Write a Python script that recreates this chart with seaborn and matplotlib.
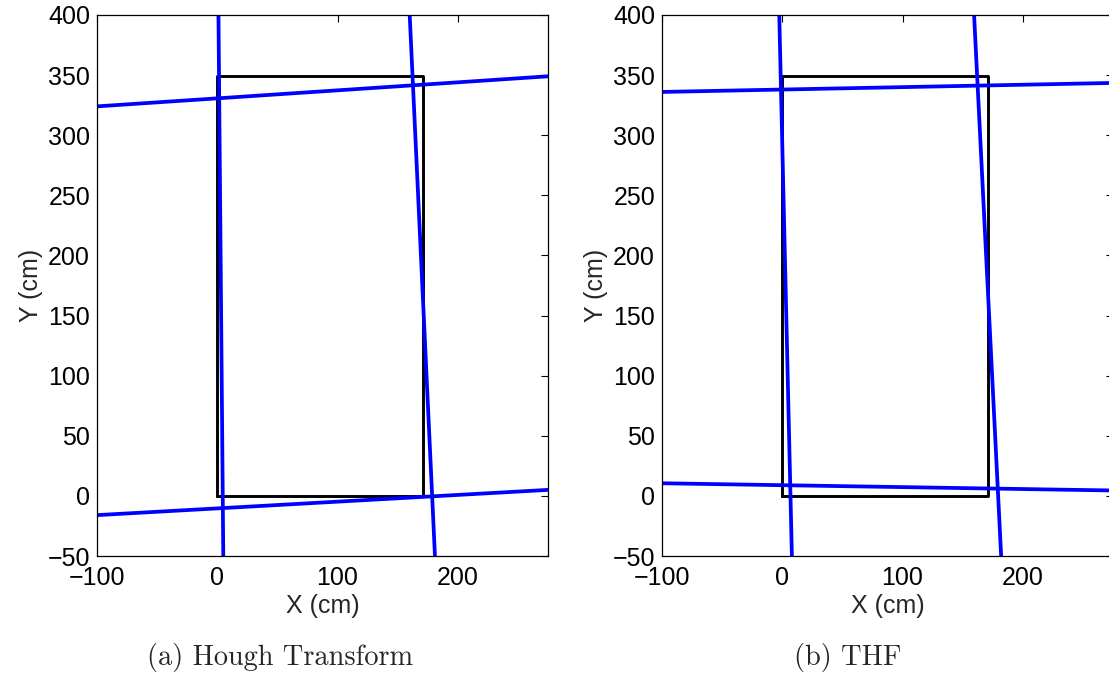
import matplotlib
matplotlib.use("Agg")
import matplotlib.pyplot as plt
import seaborn as sns
import pandas as pd

# ---- data ----
rect_x = [0, 171, 171, 0, 0]
rect_y = [0, 0, 349, 349, 0]

# Hough transform lines (start/end points)
hough_lines_x = [[1, 5], [160, 181], [-100, 275], [-100, 275]]
hough_lines_y = [[400, -50], [400, -50], [324, 349], [-16, 5]]

# THF lines
thf_lines_x = [[-2.5, 8], [159.5, 182], [-100, 275], [-100, 275]]
thf_lines_y = [[400, -50], [400, -50], [336, 343.5], [10.5, 4.5]]

x_ticks = [-100, 0, 100, 200]
y_ticks = [-50, 0, 50, 100, 150, 200, 250, 300, 350, 400]
captions = ["(a) Hough Transform", "(b) THF"]

sns.set_style("white")
plt.rcParams['font.family'] = ['Liberation Sans', 'DejaVu Sans']

W, H = 1109, 674
fig = plt.figure(figsize=(W / 100, H / 100), dpi=100)

def make_ax(left_px):
    return fig.add_axes([left_px / W, (H - 556) / H, 451 / W, 541 / H])

panels = [(97, hough_lines_x, hough_lines_y), (662, thf_lines_x, thf_lines_y)]
for i, (lp, lx, ly) in enumerate(panels):
    ax = make_ax(lp)
    df_rect = pd.DataFrame({"x": rect_x, "y": rect_y})
    sns.lineplot(data=df_rect, x="x", y="y", sort=False, estimator=None,
                 color="black", linewidth=2.1, ax=ax)
    for xs, ys in zip(lx, ly):
        d = pd.DataFrame({"x": xs, "y": ys})
        sns.lineplot(data=d, x="x", y="y", sort=False, estimator=None,
                     color="#0000ff", linewidth=2.7, ax=ax)
    ax.set_xlim(-100, 275)
    ax.set_ylim(-50, 400)
    ax.set_xticks(x_ticks)
    ax.set_yticks(y_ticks)
    ax.set_xticklabels([f"\u2212{abs(v)}" if v < 0 else str(v) for v in x_ticks])
    ax.set_yticklabels([f"\u2212{abs(v)}" if v < 0 else str(v) for v in y_ticks])
    ax.tick_params(direction="in", length=5, width=0.8, top=True, right=True,
                   labelsize=18, pad=5, colors="black")
    ax.tick_params(axis="x", pad=7)
    for s in ax.spines.values():
        s.set_visible(True)
        s.set_color("black")
        s.set_linewidth(0.9)
    ax.set_xlabel("X (cm)", fontsize=18, labelpad=3)
    ax.set_ylabel("Y (cm)", fontsize=18, labelpad=3)
    ax.set_facecolor("white")

fig.text(280 / W, 1 - 657 / H, captions[0], family="cmr10", fontsize=20.4,
         ha="center", va="center")
fig.text(848 / W, 1 - 657 / H, captions[1], family="cmr10", fontsize=20.4,
         ha="center", va="center")

fig.savefig("out.png", dpi=100, facecolor="white")
